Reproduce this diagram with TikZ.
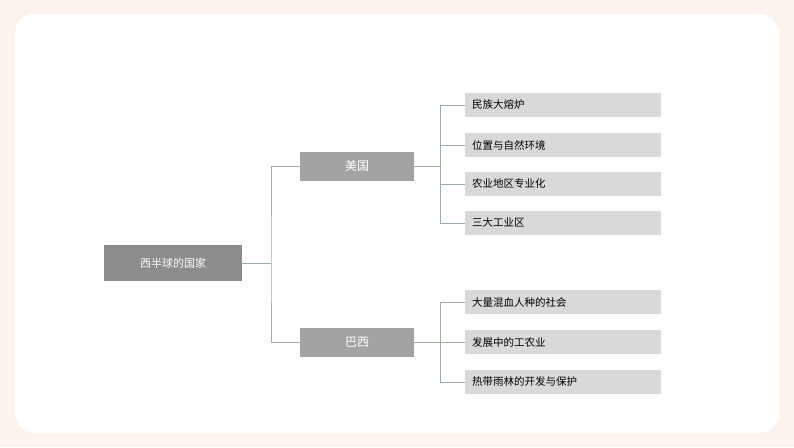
\documentclass[tikz,border=0pt]{standalone}
\usepackage{fontspec}
\setmainfont{Noto Sans CJK SC}
\usetikzlibrary{positioning}
\definecolor{bgpink}{HTML}{FCF3EE}
\definecolor{rootgray}{HTML}{8C8C8C}
\definecolor{midgray}{HTML}{A3A3A3}
\definecolor{leafgray}{HTML}{D9D9D9}
\definecolor{linkgreen}{HTML}{9DB09D}
\tikzset{
	rootbox/.style={fill=rootgray, text=white, minimum width=138pt, minimum height=36pt, font=\fontsize{11}{13}\selectfont},
	midbox/.style={fill=midgray, text=white, minimum width=114pt, minimum height=29pt, font=\fontsize{12}{14}\selectfont},
	leafbox/.style={fill=leafgray, text=black, minimum width=196pt, minimum height=24pt, text width=182pt, align=left, inner xsep=7pt, font=\fontsize{10.5}{12}\selectfont},
	link/.style={draw=linkgreen, line width=0.6pt}
}
\begin{document}
\begin{tikzpicture}[x=1pt,y=-1pt]
		\fill[bgpink] (0,0) rectangle (794,447);
		\fill[white, rounded corners=20pt] (15,14) rectangle (779,433);
		\node[rootbox] (root) at (173,263) {西半球的国家};
		\node[midbox] (usa) at (357,166) {美国};
		\node[midbox] (bra) at (357,342) {巴西};
		\node[leafbox] (u1) at (563,105) {民族大熔炉};
		\node[leafbox] (u2) at (563,145) {位置与自然环境};
		\node[leafbox] (u3) at (563,184) {农业地区专业化};
		\node[leafbox] (u4) at (563,223) {三大工业区};
		\node[leafbox] (b1) at (563,302) {大量混血人种的社会};
		\node[leafbox] (b2) at (563,342) {发展中的工农业};
		\node[leafbox] (b3) at (563,382) {热带雨林的开发与保护};
		\coordinate (rj) at (271,263);
		\coordinate (uj) at (440,166);
		\coordinate (bj) at (440,342);
		\draw[link] (root.east) -- (rj);
		\draw[link] (usa.west) -| (rj) |- (bra.west);
		\draw[link] (usa.east) -- (uj);
		\draw[link] (bra.east) -- (bj);
		\foreach \n in {u1,u2,u3,u4}
			\draw[link] (uj) |- (\n.west);
		\foreach \n in {b1,b2,b3}
			\draw[link] (bj) |- (\n.west);
\end{tikzpicture}
\end{document}
